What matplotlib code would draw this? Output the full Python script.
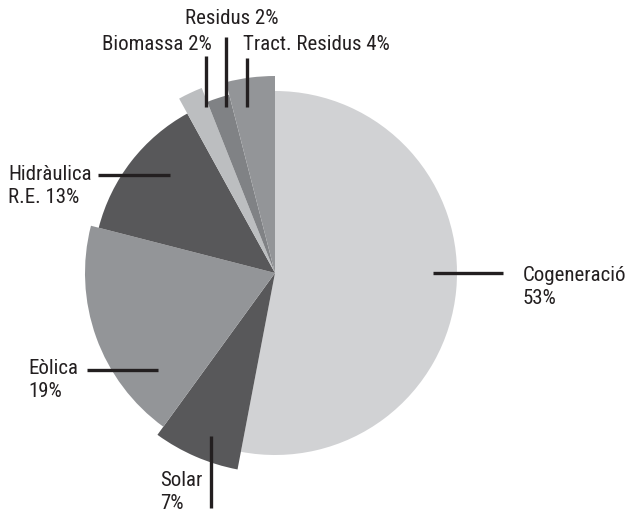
import matplotlib
matplotlib.use("Agg")
import matplotlib.pyplot as plt
from matplotlib import font_manager

categories = ["Cogeneració", "Solar", "Eòlica", "Hidràulica R.E.", "Biomassa", "Residus", "Tract. Residus"]
shares = [53, 7, 19, 13, 2, 2, 4]
label_texts = ["Cogeneració\n53%", "Solar\n7%", "Eòlica\n19%", "Hidràulica\nR.E. 13%",
               "Biomassa 2%", "Residus 2%", "Tract. Residus 4%"]

colors = ["#d1d2d4", "#58585a", "#939598", "#58585a", "#bcbec0", "#808285", "#939598"]
radii = [182, 200, 190, 182, 199, 184, 197]

names = {f.name for f in font_manager.fontManager.ttflist}
fam = None
for cand in ["Roboto Condensed", "Liberation Sans Narrow", "Arial Narrow", "Roboto"]:
    if cand in names:
        fam = cand
        break
if fam is None:
    fam = "DejaVu Sans"
plt.rcParams['font.family'] = [fam, 'DejaVu Sans']

W, H = 626, 515
fig = plt.figure(figsize=(W / 100, H / 100), dpi=100)
ax = fig.add_axes([0, 0, 1, 1])

def Y(y):
    return H - y

cx, cy = 275, 273
wedges, _ = ax.pie(shares, colors=colors, startangle=90, counterclock=False,
                   center=(cx, Y(cy)), radius=182, wedgeprops=dict(linewidth=0))
for w, r in zip(wedges, radii):
    w.set_radius(r)

ax.set_xlim(0, W)
ax.set_ylim(0, H)
ax.set_aspect('auto')
ax.axis('off')

lw = 2.4
fs = 15
lines = [
    ((433, 503), (273, 273)),
    ((211, 211), (436, 508)),
    ((87, 158), (370, 370)),
    ((98, 170), (175, 175)),
    ((206, 206), (56, 107)),
    ((226, 226), (37, 107)),
    ((247, 247), (58, 107)),
]
for (xs, ys) in lines:
    ax.plot(xs, [Y(v) for v in ys], color="#231f20", lw=lw, solid_capstyle='butt', zorder=5)

tc = "#231f20"
ls = 1.3
ax.text(523, Y(287), label_texts[0], fontsize=fs, ha='left', va='center', linespacing=ls, color=tc)
ax.text(160, Y(492), label_texts[1], fontsize=fs, ha='left', va='center', linespacing=ls, color=tc)
ax.text(28, Y(380), label_texts[2], fontsize=fs, ha='left', va='center', linespacing=ls, color=tc)
ax.text(8, Y(186), label_texts[3], fontsize=fs, ha='left', va='center', linespacing=ls, color=tc)
ax.text(102, Y(44), label_texts[4], fontsize=fs, ha='left', va='center', color=tc)
ax.text(185, Y(18), label_texts[5], fontsize=fs, ha='left', va='center', color=tc)
ax.text(243, Y(45), label_texts[6], fontsize=fs, ha='left', va='center', color=tc)

fig.savefig("out.png", dpi=100, facecolor="white")
